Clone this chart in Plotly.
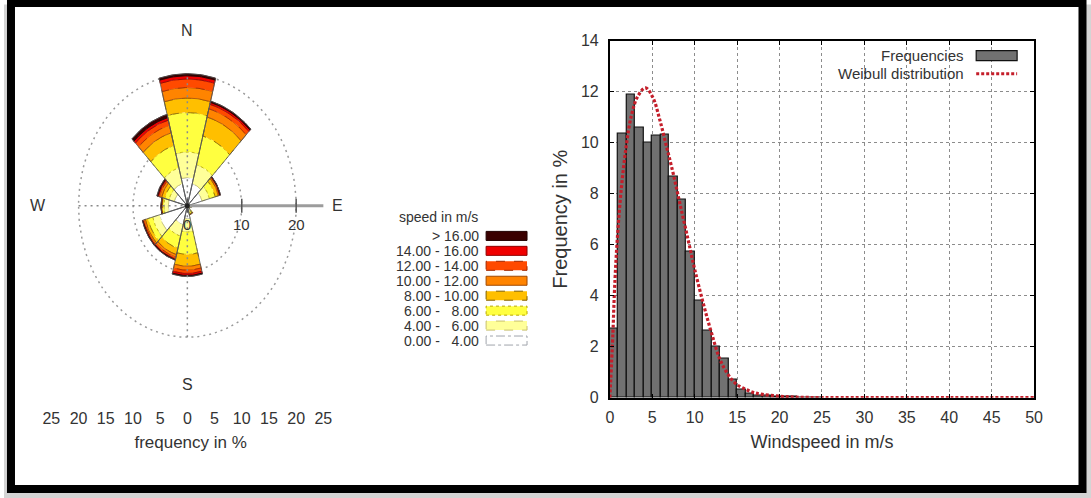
import numpy as np
import plotly.graph_objects as go

W, H = 1091, 498
# picture-pixel -> paper-fraction mapping (calibrated on the rendered page)
X0, XW = 3.0, 1080.0
Y0, YH = 9.5, 479.5


def px(x):
    return (x - X0) / XW


def py(y):
    return 1 - (y - Y0) / YH


# ---------------- Histogram data (bins of 1 m/s) ----------------
bin_left = list(range(25))
freq_pct = [2.71, 10.37, 11.90, 10.60, 9.99, 10.26, 10.31, 8.66, 7.75, 5.73,
            3.79, 2.62, 2.00, 1.53, 0.70, 0.33, 0.18, 0.10, 0.07, 0.05,
            0.04, 0.03, 0.02, 0.01, 0.01]

# Weibull curve
weib_speed = [0, 0.36, 0.55, 0.87, 1.34, 1.93, 2.52, 3.31, 4.2, 5.08, 5.87, 6.66,
              7.44, 8.23, 9.21, 10.0, 10.98, 11.97, 13.15, 14.7, 16, 17, 18, 20,
              22, 25, 30, 40, 50]
weib_pct = [0, 2.55, 4.25, 6.2, 8.17, 9.87, 11.04, 11.83, 12.15, 11.76, 10.91, 9.87,
            8.82, 7.65, 6.21, 5.03, 3.73, 2.55, 1.37, 0.59, 0.33, 0.2, 0.13, 0.06,
            0.02, 0.005, 0, 0, 0]

hist_xticks = list(range(0, 51, 5))
hist_yticks = list(range(0, 15, 2))

# ---------------- Wind rose data (frequency % per direction & speed class) ----------------
directions = [0, 30, 60, 90, 120, 150, 180, 210, 240, 270, 300, 330]
f_0_4 = [4.3, 3.5, 2.8, 0.6, 0.4, 0.8, 2.0, 3.0, 5.3, 3.5, 2.5, 3.5]
f_4_6 = [3.9, 3.0, 1.4, 0.12, 0.1, 0.3, 2.0, 1.8, 1.3, 0.8, 1.0, 2.5]
f_6_8 = [6.0, 4.5, 1.1, 0.05, 0.05, 0.2, 3.4, 1.9, 0.9, 0.3, 0.8, 3.5]
f_8_10 = [2.2, 3.0, 0.6, 0.03, 0.0, 0.1, 1.8, 1.0, 0.5, 0.15, 0.6, 2.0]
f_10_12 = [1.6, 1.3, 0.2, 0.0, 0.0, 0.05, 0.6, 0.4, 0.25, 0.05, 0.4, 1.2]
f_12_14 = [1.3, 0.7, 0.1, 0.0, 0.0, 0.0, 0.5, 0.25, 0.15, 0.02, 0.2, 0.8]
f_14_16 = [0.5, 0.3, 0.05, 0.0, 0.0, 0.0, 0.3, 0.1, 0.08, 0.02, 0.15, 0.4]
f_gt16 = [0.3, 0.2, 0.05, 0.0, 0.0, 0.0, 0.15, 0.1, 0.07, 0.01, 0.15, 0.5]

class_labels = ["0.00 -\u00a0\u00a0 4.00", "4.00 -\u00a0\u00a0 6.00",
                "6.00 -\u00a0\u00a0 8.00", "8.00 - 10.00", "10.00 - 12.00",
                "12.00 - 14.00", "14.00 - 16.00", "> 16.00"]
class_colors = ["#ffffff", "#ffff99", "#ffff40", "#ffbf00", "#ff8400", "#ff4a00",
                "#f00000", "#3a0000"]
class_line_colors = ["#a0a4ac", "#c8c070", "#b8a800", "#806000", "#a04800", "#a02800",
                     "#900000", "#200000"]
class_dash = ["dashdot", "dash", "dot", "dash", "solid", "dash", "solid", "solid"]

rose_ticks = list(range(-25, 26, 5))
rose_ticktext = [str(abs(t)) for t in rose_ticks]
grid_radii = [10, 20]
axis_ticks = [0, 10, 20]

# ---------------- Figure ----------------
fig = go.Figure()

theta_full = np.radians(np.linspace(0, 360, 181))
for r in grid_radii:
    fig.add_trace(go.Scatter(x=r * np.sin(theta_full), y=r * np.cos(theta_full), mode="lines",
                             line=dict(color="#9a9a9a", width=1.5, dash="2px,4px"),
                             xaxis="x2", yaxis="y2", hoverinfo="skip", showlegend=False))

classes = [f_0_4, f_4_6, f_6_8, f_8_10, f_10_12, f_12_14, f_14_16, f_gt16]
cum = np.cumsum(np.array(classes), axis=0)
HALF = 15


def wedge(d, r0, r1, n=25):
    th = np.radians(np.linspace(d - HALF, d + HALF, n))
    xo, yo = r1 * np.sin(th), r1 * np.cos(th)
    xi, yi = r0 * np.sin(th[::-1]), r0 * np.cos(th[::-1])
    xs = list(np.concatenate([xo, xi, xo[:1]]))
    ys = list(np.concatenate([yo, yi, yo[:1]]))
    return xs, ys


for k in range(len(classes)):
    X, Y = [], []
    for j, d in enumerate(directions):
        r0 = 0.0 if k == 0 else cum[k - 1][j]
        r1 = cum[k][j]
        if r1 - r0 <= 0:
            continue
        xs, ys = wedge(d, r0, r1)
        X += xs + [None]
        Y += ys + [None]
    fig.add_trace(go.Scatter(x=X, y=Y, mode="lines", fill="toself", fillcolor=class_colors[k],
                             line=dict(color=class_line_colors[k], width=0.8, dash=class_dash[k]),
                             xaxis="x2", yaxis="y2", hoverinfo="skip", showlegend=False))

X, Y = [], []
for j, d in enumerate(directions):
    tot = cum[-1][j]
    th = np.radians(np.linspace(d - HALF, d + HALF, 25))
    X += [0] + list(tot * np.sin(th)) + [0, None]
    Y += [0] + list(tot * np.cos(th)) + [0, None]
fig.add_trace(go.Scatter(x=X, y=Y, mode="lines", line=dict(color="#555555", width=0.8),
                         xaxis="x2", yaxis="y2", hoverinfo="skip", showlegend=False))

fig.add_trace(go.Scatter(x=[0, 0], y=[-20, 20], mode="lines",
                         line=dict(color="#8a8a8a", width=1.5, dash="2px,4px"),
                         xaxis="x2", yaxis="y2", hoverinfo="skip", showlegend=False))
fig.add_trace(go.Scatter(x=[-20, 0], y=[0, 0], mode="lines",
                         line=dict(color="#8a8a8a", width=1.5, dash="2px,4px"),
                         xaxis="x2", yaxis="y2", hoverinfo="skip", showlegend=False))
fig.add_trace(go.Scatter(x=[0, 25], y=[0, 0], mode="lines",
                         line=dict(color="#9c9c9c", width=3),
                         xaxis="x2", yaxis="y2", hoverinfo="skip", showlegend=False))
fig.add_trace(go.Scatter(x=axis_ticks, y=[0] * len(axis_ticks), mode="markers",
                         marker=dict(symbol="line-ns-open", size=10, color="#555555",
                                     line=dict(color="#555555", width=1.5)),
                         xaxis="x2", yaxis="y2", hoverinfo="skip", showlegend=False))
fig.add_trace(go.Scatter(x=[0], y=[0], mode="markers",
                         marker=dict(symbol="circle", size=5, color="#222222"),
                         xaxis="x2", yaxis="y2", hoverinfo="skip", showlegend=False))

fig.add_trace(go.Bar(x=[b + 0.5 for b in bin_left], y=freq_pct, width=1.0,
                     marker=dict(color="#717171", line=dict(color="#111111", width=1.2)),
                     name="Frequencies", xaxis="x", yaxis="y", showlegend=False))
fig.add_trace(go.Scatter(x=weib_speed, y=weib_pct, mode="lines", line_shape="spline",
                         line=dict(color="#c41e2a", width=3.2, dash="3px,2px"),
                         name="Weibull distribution", xaxis="x", yaxis="y", showlegend=False))

FONT = "Liberation Sans, Arial, sans-serif"
TXT = "#333333"

annotations = []
shapes = []


def ann(x, y, text, size=15, xanchor="center", xref="paper", yref="paper"):
    return dict(x=x, y=y, xref=xref, yref=yref, text=text, showarrow=False,
                xanchor=xanchor, yanchor="middle",
                font=dict(size=size, color=TXT, family=FONT))


for lab, ax, ay in [("N", 0, 26.7), ("S", 0, -27.2), ("W", -27.5, 0), ("E", 27.6, 0)]:
    annotations.append(ann(ax, ay, lab, 16, xref="x2", yref="y2"))
for t in axis_ticks:
    annotations.append(ann(t, -2.9, str(t), 15, xref="x2", yref="y2"))

annotations.append(ann(px(438), py(218), "speed in m/s", 14))
row0, drow = 236.7, 14.9
for i, k in enumerate(reversed(range(len(class_labels)))):
    yc = row0 + drow * i
    annotations.append(ann(px(481), py(yc), class_labels[k], 14, xanchor="right"))
    shapes.append(dict(type="rect", xref="paper", yref="paper", x0=px(486), x1=px(527),
                       y0=py(yc + 4.5), y1=py(yc - 4.5), fillcolor=class_colors[k],
                       line=dict(color=class_line_colors[k], width=1, dash=class_dash[k])))

annotations.append(ann(px(967), py(57), "Frequencies", 15, xanchor="right"))
annotations.append(ann(px(967), py(75), "Weibull distribution", 15, xanchor="right"))
shapes.append(dict(type="rect", xref="paper", yref="paper", x0=px(977), x1=px(1018),
                   y0=py(62), y1=py(52), fillcolor="#717171", line=dict(color="#111111", width=1.2)))
shapes.append(dict(type="line", xref="paper", yref="paper", x0=px(977), x1=px(1018),
                   y0=py(75), y1=py(75), line=dict(color="#c41e2a", width=3, dash="3px,2px")))

frame_shapes = [
    dict(type="rect", xref="paper", yref="paper", x0=px(3), x1=px(1095), y0=py(502), y1=py(6),
         fillcolor="#d4d4d4", line=dict(width=0), layer="below"),
    dict(type="rect", xref="paper", yref="paper", x0=px(10), x1=px(1083.5), y0=py(489), y1=py(4.5),
         fillcolor="white", line=dict(color="black", width=8), layer="below"),
]

axis_common = dict(showline=True, linecolor="black", linewidth=2, mirror="ticks",
                   ticks="inside", ticklen=4, tickcolor="black", showgrid=True,
                   gridcolor="#8c8c8c", griddash="dot", gridwidth=1, zeroline=False,
                   tickfont=dict(size=16, color=TXT, family=FONT))

fig.update_layout(
    width=W, height=H, margin=dict(l=0, r=0, t=0, b=0),
    paper_bgcolor="white", plot_bgcolor="rgba(0,0,0,0)",
    showlegend=False, bargap=0,
    font=dict(family=FONT, color=TXT),
    xaxis=dict(domain=[px(610), px(1035)], range=[0, 50], tickvals=hist_xticks,
               anchor="y", ticklabelstandoff=4,
               title=dict(text="Windspeed in m/s", standoff=10,
                          font=dict(size=18, color=TXT, family=FONT)), **axis_common),
    yaxis=dict(domain=[py(398), py(42)], range=[0, 14], tickvals=hist_yticks,
               anchor="x", ticklabelstandoff=6,
               title=dict(text="Frequency in %", standoff=8,
                          font=dict(size=20, color=TXT, family=FONT)), **axis_common),
    xaxis2=dict(domain=[px(20), px(360)], range=[(20 - 186.7) / 5.45, (360 - 186.7) / 5.45],
                anchor="y2", tickvals=rose_ticks, ticktext=rose_ticktext, showgrid=False,
                zeroline=False, showline=False, ticks="", ticklabelstandoff=1,
                tickfont=dict(size=16, color=TXT, family=FONT),
                title=dict(text="frequency in %", standoff=10,
                           font=dict(size=17, color=TXT, family=FONT))),
    yaxis2=dict(domain=[py(406), py(20)], range=[(206.7 - 406) / 6.55, (206.7 - 20) / 6.55],
                anchor="x2", visible=False),
    annotations=annotations,
    shapes=frame_shapes + shapes,
)

fig.write_html("out.html")
